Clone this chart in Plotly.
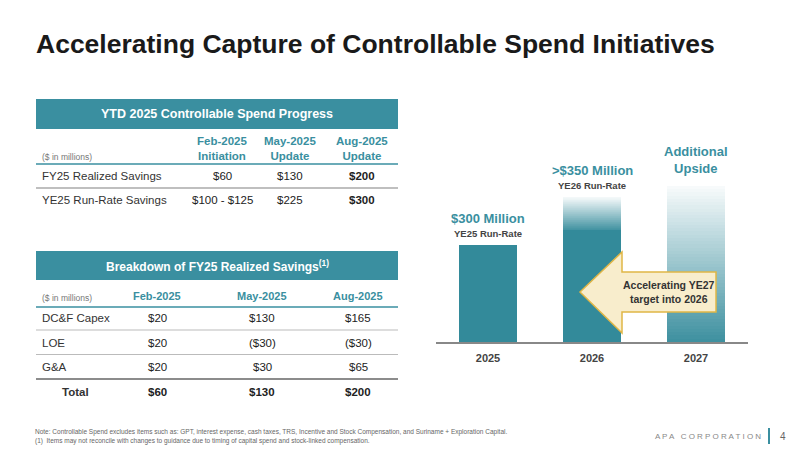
import plotly.graph_objects as go

# ---- data ----
years = ["2025", "2026", "2027"]
run_rate = [300, 350, 0]          # solid bars ($MM)
upside_top = [300, 450, 485]      # faded extent
bar_titles = ["$300 Million", ">$350 Million", "Additional<br>Upside"]
bar_subs = ["YE25 Run-Rate", "YE26 Run-Rate", ""]

t1_cols = ["Feb-2025<br>Initiation", "May-2025<br>Update", "Aug-2025<br>Update"]
t1_rows = ["FY25 Realized Savings", "YE25 Run-Rate Savings"]
t1_vals = [["$60", "$130", "$200"], ["$100 - $125", "$225", "$300"]]

t2_cols = ["Feb-2025", "May-2025", "Aug-2025"]
t2_rows = ["DC&F Capex", "LOE", "G&A", "Total"]
t2_vals = [["$20", "$130", "$165"], ["$20", "($30)", "($30)"],
           ["$20", "$30", "$65"], ["$60", "$130", "$200"]]

TEAL = "#3a8fa0"
BAR = "#338a9a"
FONT = "Liberation Sans, Arial, sans-serif"

def px(x): return x / 800
def py(y): return 1 - y / 450

def blend(a):
    r0, g0, b0 = 0x33, 0x8a, 0x9a
    r = round(255 + (r0 - 255) * a); g = round(255 + (g0 - 255) * a); b = round(255 + (b0 - 255) * a)
    return f"rgb({r},{g},{b})"

xpos = list(range(len(years)))
fig = go.Figure()
fig.add_trace(go.Bar(x=xpos, y=run_rate, marker_color=BAR, marker_line_width=0, hoverinfo="skip"))
N = 48
for k in range(N):
    ys, cols = [], []
    for i in range(3):
        lo = run_rate[i]; hi = upside_top[i]
        ys.append((hi - lo) / N)
        frac = (k + 0.5) / N
        a = (0.95 - 0.92 * frac) if i == 2 else (0.92 - 0.87 * frac)
        cols.append(blend(max(a, 0.03)))
    fig.add_trace(go.Bar(x=xpos, y=ys, marker_color=cols, marker_line_width=0, hoverinfo="skip"))

fig.update_layout(barmode="stack", bargap=0.45, showlegend=False,
                  autosize=True,
                  margin=dict(l=0, r=0, t=0, b=0),
                  paper_bgcolor="white", plot_bgcolor="white",
                  font=dict(family=FONT, color="#333"))
fig.update_xaxes(domain=[px(436), px(748)], range=[-0.5, 2.5], tickvals=xpos, ticktext=[f"<b>{y}</b>" for y in years],
                 showline=True, linecolor="#888", linewidth=1.5, ticklabelstandoff=5,
                 tickfont=dict(size=11, color="#444", family=FONT), ticks="", showgrid=False, zeroline=False)
fig.update_yaxes(domain=[py(342), py(181)], range=[0, 500], visible=False, showgrid=False)

ann = []
def A(x, y, text, size=10, color="#333", bold=False, xanchor="center"):
    if bold: text = f"<b>{text}</b>"
    ann.append(dict(x=x, y=y, text=text, showarrow=False, xanchor=xanchor, yanchor="middle",
                    xref="paper", yref="paper", font=dict(size=size, color=color, family=FONT)))

shapes = []
def R(x0, y0, x1, y1, fill):
    shapes.append(dict(type="rect", xref="paper", yref="paper", x0=px(x0), x1=px(x1),
                       y0=py(y1), y1=py(y0), fillcolor=fill, line_width=0, layer="below"))
def L(x0, y0, x1, y1, color="#aaa", w=1):
    shapes.append(dict(type="line", xref="paper", yref="paper", x0=px(x0), x1=px(x1),
                       y0=py(y0), y1=py(y1), line=dict(color=color, width=w)))

A(px(34), py(44), "Accelerating Capture of Controllable Spend Initiatives", size=26.5, color="#1a1a1a", bold=True, xanchor="left")

for i in xpos:
    top = upside_top[i] if i else run_rate[i]
    if i == 2:
        ann.append(dict(x=i, y=top, xref="x", yref="y", text=f"<b>{bar_titles[i]}</b>", showarrow=False,
                        yanchor="bottom", yshift=8, font=dict(size=13, color=TEAL, family=FONT)))
    else:
        ann.append(dict(x=i, y=top, xref="x", yref="y", text=f"<b>{bar_titles[i]}</b>", showarrow=False,
                        yanchor="bottom", yshift=17, font=dict(size=13, color=TEAL, family=FONT)))
        ann.append(dict(x=i, y=top, xref="x", yref="y", text=f"<b>{bar_subs[i]}</b>", showarrow=False,
                        yanchor="bottom", yshift=4, font=dict(size=9.5, color="#444", family=FONT)))

pts = [(580, 292), (622, 252), (622, 272), (716, 272), (716, 312), (622, 312), (622, 333)]
path = "M " + " L ".join(f"{px(x)},{py(y)}" for x, y in pts) + " Z"
shapes.append(dict(type="path", xref="paper", yref="paper", path=path,
                   fillcolor="#f8edcc", line=dict(color="#e0b646", width=1.5)))
A(px(669), py(292), "Accelerating YE27<br>target into 2026", size=10.5, color="#333", bold=True)

R(36, 99, 398, 129, TEAL)
A(px(217), py(114), "YTD 2025 Controllable Spend Progress", size=12.5, color="white", bold=True)
cx1 = [222, 290, 362]
for c, t in zip(cx1, t1_cols):
    A(px(c), py(148), t, size=11.5, color=TEAL, bold=True)
A(px(40), py(157), "($ in millions)", size=8.5, color="#777", xanchor="left")
L(36, 164, 398, 164, TEAL, 1.5)
for r, (lab, vals) in enumerate(zip(t1_rows, t1_vals)):
    yy = 176 + r * 24
    A(px(40), py(yy), lab, size=11.5, color="#333", xanchor="left")
    for j, (c, v) in enumerate(zip(cx1, vals)):
        A(px(c), py(yy), v, size=11.5, color="#222", bold=(j == 2))
L(36, 188, 398, 188, "#aaa", 1.5)

R(36, 251, 398, 280, TEAL)
A(px(217), py(265.5), "Breakdown of FY25 Realized Savings<sup>(1)</sup>", size=12, color="white", bold=True)
cx2 = [157, 262, 358]
for c, t in zip(cx2, t2_cols):
    A(px(c), py(296), t, size=11, color=TEAL, bold=True)
A(px(40), py(298), "($ in millions)", size=8.5, color="#777", xanchor="left")
L(36, 307, 398, 307, TEAL, 1.5)
for r, (lab, vals) in enumerate(zip(t2_rows, t2_vals)):
    yy = 318 + r * 24.5
    tot = lab == "Total"
    A(px(60 if tot else 40), py(yy), lab, size=11.5, color="#333", bold=tot, xanchor="left")
    for c, v in zip(cx2, vals):
        A(px(c), py(yy), v, size=11.5, color="#222", bold=tot)
    if r < 3:
        L(36, yy + 12, 398, yy + 12, "#666" if r == 2 else "#bbb", 1.5 if r == 2 else 1)

A(px(33), py(432), "Note: Controllable Spend excludes items such as: GPT, interest expense, cash taxes, TRS, Incentive and Stock Compensation, and Suriname + Exploration Capital.", size=6.5, color="#666", xanchor="left")
A(px(33), py(441), "(1)  Items may not reconcile with changes to guidance due to timing of capital spend and stock-linked compensation.", size=6.5, color="#666", xanchor="left")
A(px(763), py(436), "A P A   C O R P O R A T I O N", size=8, color="#888", xanchor="right")
L(769, 428, 769, 444, TEAL, 2)
A(px(778), py(436), "4", size=10, color="#666", xanchor="left")

fig.update_layout(annotations=ann, shapes=shapes)
fig.write_html("out.html", default_width="100vw", default_height="100vh",
               config={"displayModeBar": False},
               post_script="document.body.style.margin='0';document.body.style.overflow='hidden';")
